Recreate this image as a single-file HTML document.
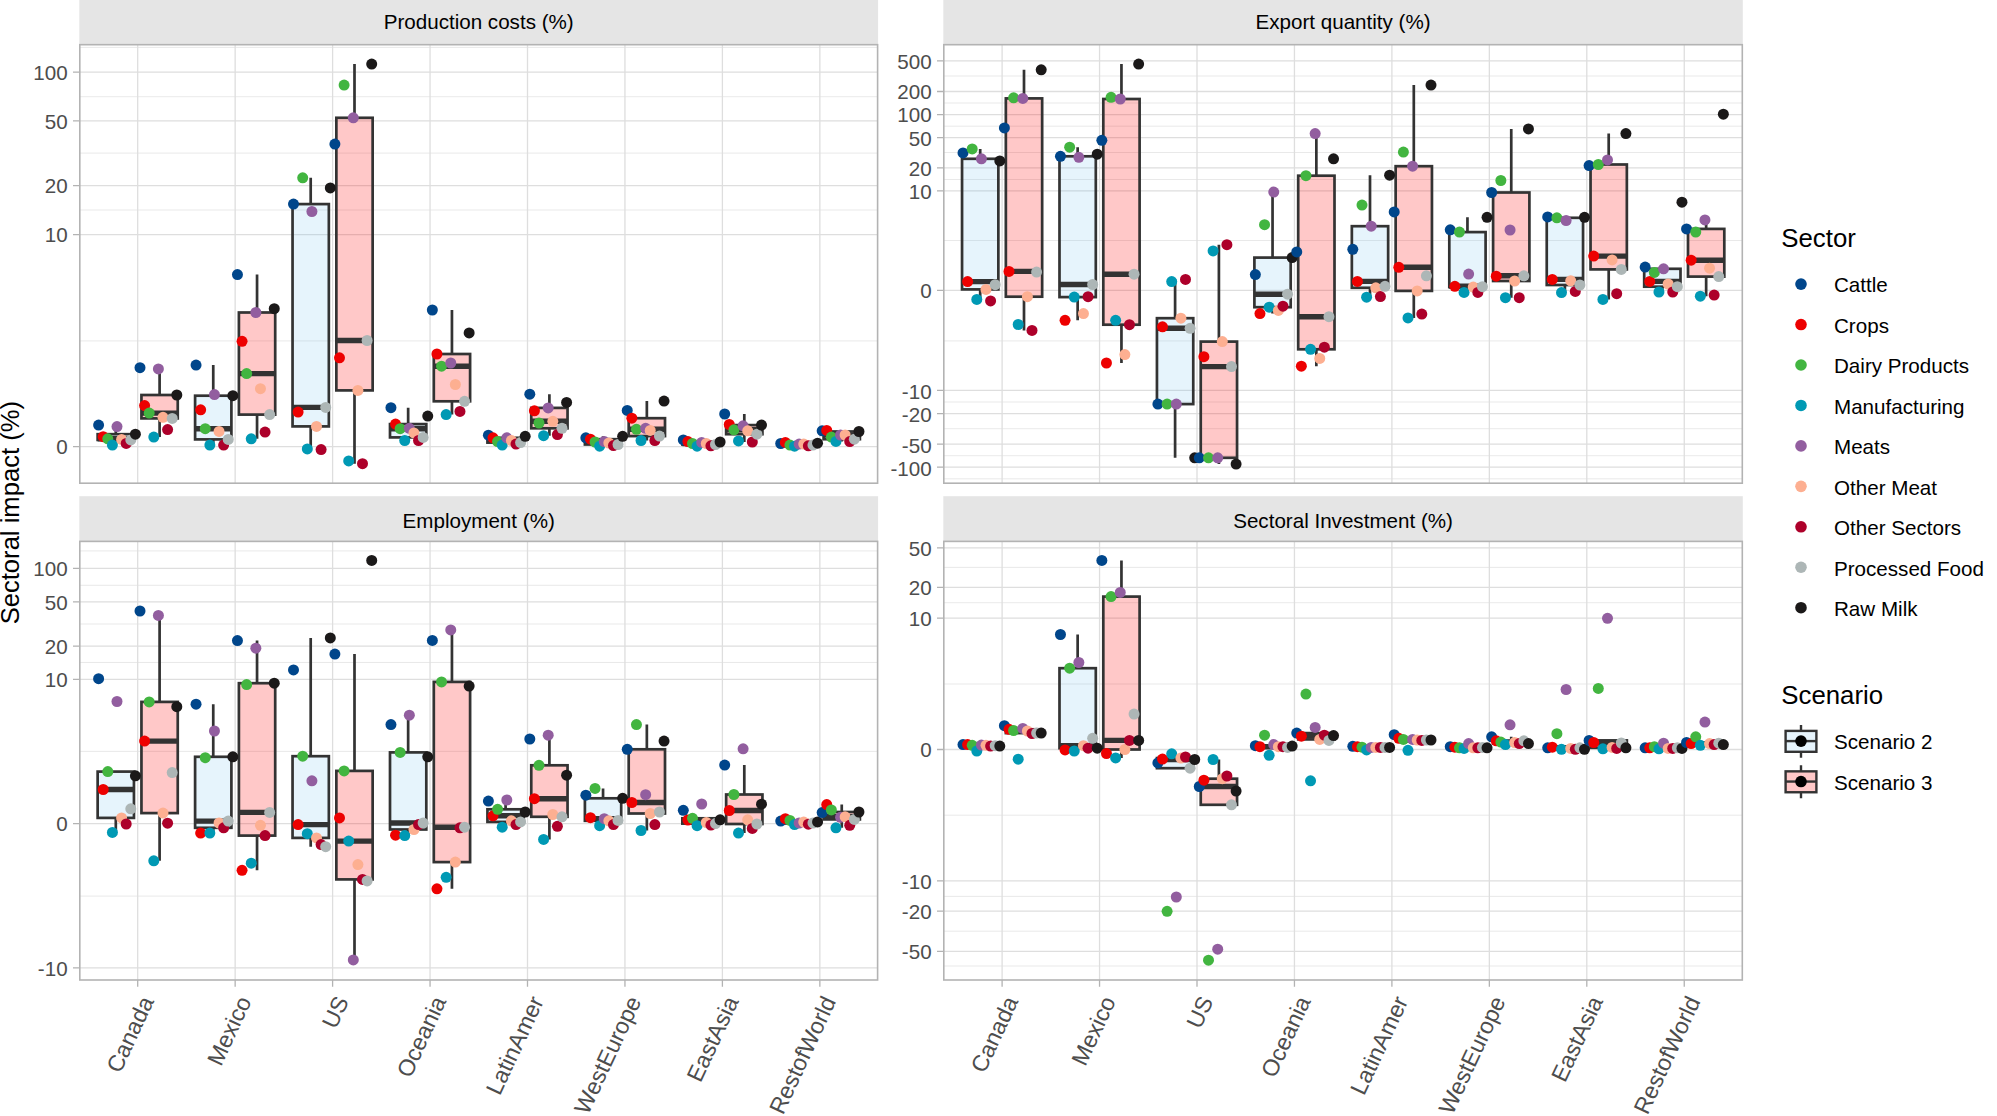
<!DOCTYPE html>
<html lang="en"><head><meta charset="utf-8"><title>Sectoral impact</title>
<style>html,body{margin:0;padding:0;background:#fff}body{width:1997px;height:1116px;overflow:hidden}svg{display:block}</style></head>
<body>
<svg width="1997" height="1116" viewBox="0 0 1997 1116" font-family="'Liberation Sans', Arial, sans-serif">
<rect width="1997" height="1116" fill="#fff"/>
<g transform="translate(0 0.4)">
<rect x="79.3" y="-1" width="798.8" height="45.3" fill="#E5E5E5"/>
<text x="478.7" y="29" font-size="20.6" fill="#000" text-anchor="middle">Production costs (%)</text>
<rect x="79.8" y="44.3" width="797.8" height="438.5" fill="#fff"/>
<path d="M79.8 47H877.6M79.8 96.3H877.6M79.8 152.7H877.6M79.8 209.6H877.6M79.8 340.5H877.6" stroke="#E3E3E3" stroke-width="0.8" fill="none"/>
<path d="M79.8 71.7H877.6M79.8 120.5H877.6M79.8 185.2H877.6M79.8 234.2H877.6M79.8 446.2H877.6M137.7 44.3V482.8M235.15 44.3V482.8M332.6 44.3V482.8M430.05 44.3V482.8M527.5 44.3V482.8M624.95 44.3V482.8M722.4 44.3V482.8M819.85 44.3V482.8" stroke="#DEDEDE" stroke-width="1.3" fill="none"/>
<path d="M115.8 426.2V433.8M115.8 439.5V444.7" stroke="#333333" stroke-width="2.7" fill="none"/>
<rect x="97.65" y="433.8" width="36.3" height="5.7" fill="rgba(86,180,233,0.15)" stroke="#333333" stroke-width="2.7" stroke-linejoin="miter"/>
<path d="M97.65 438.4H133.95" stroke="#333333" stroke-width="5.4"/>
<path d="M159.6 367.3V394.6M159.6 418V436.7" stroke="#333333" stroke-width="2.7" fill="none"/>
<rect x="141.45" y="394.6" width="36.3" height="23.4" fill="rgba(255,0,0,0.215)" stroke="#333333" stroke-width="2.7" stroke-linejoin="miter"/>
<path d="M141.45 412.7H177.75" stroke="#333333" stroke-width="5.4"/>
<path d="M213.25 364.7V395.3M213.25 439V444.7" stroke="#333333" stroke-width="2.7" fill="none"/>
<rect x="195.1" y="395.3" width="36.3" height="43.7" fill="rgba(86,180,233,0.15)" stroke="#333333" stroke-width="2.7" stroke-linejoin="miter"/>
<path d="M195.1 428.3H231.4" stroke="#333333" stroke-width="5.4"/>
<path d="M257.05 274.2V312.1M257.05 414.2V438.4" stroke="#333333" stroke-width="2.7" fill="none"/>
<rect x="238.9" y="312.1" width="36.3" height="102.1" fill="rgba(255,0,0,0.215)" stroke="#333333" stroke-width="2.7" stroke-linejoin="miter"/>
<path d="M238.9 373.2H275.2" stroke="#333333" stroke-width="5.4"/>
<path d="M310.7 177.4V203.7M310.7 426V449.2" stroke="#333333" stroke-width="2.7" fill="none"/>
<rect x="292.55" y="203.7" width="36.3" height="222.3" fill="rgba(86,180,233,0.15)" stroke="#333333" stroke-width="2.7" stroke-linejoin="miter"/>
<path d="M292.55 407H328.85" stroke="#333333" stroke-width="5.4"/>
<path d="M354.5 63.7V117.4M354.5 390V463.3" stroke="#333333" stroke-width="2.7" fill="none"/>
<rect x="336.35" y="117.4" width="36.3" height="272.6" fill="rgba(255,0,0,0.215)" stroke="#333333" stroke-width="2.7" stroke-linejoin="miter"/>
<path d="M336.35 340.1H372.65" stroke="#333333" stroke-width="5.4"/>
<path d="M408.15 407.3V423.7M408.15 437V440.1" stroke="#333333" stroke-width="2.7" fill="none"/>
<rect x="390" y="423.7" width="36.3" height="13.3" fill="rgba(86,180,233,0.15)" stroke="#333333" stroke-width="2.7" stroke-linejoin="miter"/>
<path d="M390 428.3H426.3" stroke="#333333" stroke-width="5.4"/>
<path d="M451.95 309.6V353.6M451.95 400.9V414.2" stroke="#333333" stroke-width="2.7" fill="none"/>
<rect x="433.8" y="353.6" width="36.3" height="47.3" fill="rgba(255,0,0,0.215)" stroke="#333333" stroke-width="2.7" stroke-linejoin="miter"/>
<path d="M433.8 365.8H470.1" stroke="#333333" stroke-width="5.4"/>
<path d="M505.6 434.8V437.4M505.6 442.2V444.7" stroke="#333333" stroke-width="2.7" fill="none"/>
<rect x="487.45" y="437.4" width="36.3" height="4.8" fill="rgba(86,180,233,0.15)" stroke="#333333" stroke-width="2.7" stroke-linejoin="miter"/>
<path d="M487.45 440.1H523.75" stroke="#333333" stroke-width="5.4"/>
<path d="M549.4 393.8V407.5M549.4 427.9V435.3" stroke="#333333" stroke-width="2.7" fill="none"/>
<rect x="531.25" y="407.5" width="36.3" height="20.4" fill="rgba(255,0,0,0.215)" stroke="#333333" stroke-width="2.7" stroke-linejoin="miter"/>
<path d="M531.25 420.9H567.55" stroke="#333333" stroke-width="5.4"/>
<path d="M603.05 435.9V438.8M603.05 444.1V445.8" stroke="#333333" stroke-width="2.7" fill="none"/>
<rect x="584.9" y="438.8" width="36.3" height="5.3" fill="rgba(86,180,233,0.15)" stroke="#333333" stroke-width="2.7" stroke-linejoin="miter"/>
<path d="M584.9 441.6H621.2" stroke="#333333" stroke-width="5.4"/>
<path d="M646.85 400.7V417.8M646.85 435.7V440.1" stroke="#333333" stroke-width="2.7" fill="none"/>
<rect x="628.7" y="417.8" width="36.3" height="17.9" fill="rgba(255,0,0,0.215)" stroke="#333333" stroke-width="2.7" stroke-linejoin="miter"/>
<path d="M628.7 428.9H665" stroke="#333333" stroke-width="5.4"/>
<path d="M700.5 439.5V441.6M700.5 444.1V445.8" stroke="#333333" stroke-width="2.7" fill="none"/>
<rect x="682.35" y="441.6" width="36.3" height="2.5" fill="rgba(86,180,233,0.15)" stroke="#333333" stroke-width="2.7" stroke-linejoin="miter"/>
<path d="M682.35 443.1H718.65" stroke="#333333" stroke-width="5.4"/>
<path d="M744.3 413.6V424.7M744.3 433.8V441.6" stroke="#333333" stroke-width="2.7" fill="none"/>
<rect x="726.15" y="424.7" width="36.3" height="9.1" fill="rgba(255,0,0,0.215)" stroke="#333333" stroke-width="2.7" stroke-linejoin="miter"/>
<path d="M726.15 429.4H762.45" stroke="#333333" stroke-width="5.4"/>
<path d="M797.95 442V443.1M797.95 444.7V445.8" stroke="#333333" stroke-width="2.7" fill="none"/>
<rect x="779.8" y="443.1" width="36.3" height="1.6" fill="rgba(86,180,233,0.15)" stroke="#333333" stroke-width="2.7" stroke-linejoin="miter"/>
<path d="M779.8 443.7H816.1" stroke="#333333" stroke-width="5.4"/>
<path d="M841.75 430V431.1M841.75 438.8V441.2" stroke="#333333" stroke-width="2.7" fill="none"/>
<rect x="823.6" y="431.1" width="36.3" height="7.7" fill="rgba(255,0,0,0.215)" stroke="#333333" stroke-width="2.7" stroke-linejoin="miter"/>
<path d="M823.6 434.6H859.9" stroke="#333333" stroke-width="5.4"/>
<circle cx="98.6" cy="424.7" r="5.5" fill="#00468B"/>
<circle cx="103.2" cy="436.3" r="5.5" fill="#ED0000"/>
<circle cx="107.8" cy="438.4" r="5.5" fill="#42B540"/>
<circle cx="112.4" cy="444.7" r="5.5" fill="#0099B4"/>
<circle cx="117" cy="426.2" r="5.5" fill="#925E9F"/>
<circle cx="121.6" cy="439" r="5.5" fill="#FDAF91"/>
<circle cx="126.2" cy="443" r="5.5" fill="#AD002A"/>
<circle cx="130.8" cy="439.5" r="5.5" fill="#ADB6B6"/>
<circle cx="135.4" cy="433.8" r="5.5" fill="#1B1919"/>
<circle cx="140" cy="367.3" r="5.5" fill="#00468B"/>
<circle cx="144.6" cy="405.2" r="5.5" fill="#ED0000"/>
<circle cx="149.2" cy="412.7" r="5.5" fill="#42B540"/>
<circle cx="153.8" cy="436.7" r="5.5" fill="#0099B4"/>
<circle cx="158.4" cy="368.5" r="5.5" fill="#925E9F"/>
<circle cx="163" cy="416.9" r="5.5" fill="#FDAF91"/>
<circle cx="167.6" cy="429.2" r="5.5" fill="#AD002A"/>
<circle cx="172.2" cy="418" r="5.5" fill="#ADB6B6"/>
<circle cx="176.8" cy="394.6" r="5.5" fill="#1B1919"/>
<circle cx="196.05" cy="364.7" r="5.5" fill="#00468B"/>
<circle cx="200.65" cy="409.4" r="5.5" fill="#ED0000"/>
<circle cx="205.25" cy="428.3" r="5.5" fill="#42B540"/>
<circle cx="209.85" cy="444.7" r="5.5" fill="#0099B4"/>
<circle cx="214.45" cy="394.2" r="5.5" fill="#925E9F"/>
<circle cx="219.05" cy="431" r="5.5" fill="#FDAF91"/>
<circle cx="223.65" cy="444.7" r="5.5" fill="#AD002A"/>
<circle cx="228.25" cy="439" r="5.5" fill="#ADB6B6"/>
<circle cx="232.85" cy="395.3" r="5.5" fill="#1B1919"/>
<circle cx="237.45" cy="274.2" r="5.5" fill="#00468B"/>
<circle cx="242.05" cy="340.9" r="5.5" fill="#ED0000"/>
<circle cx="246.65" cy="373.2" r="5.5" fill="#42B540"/>
<circle cx="251.25" cy="438.4" r="5.5" fill="#0099B4"/>
<circle cx="255.85" cy="312.1" r="5.5" fill="#925E9F"/>
<circle cx="260.45" cy="388.3" r="5.5" fill="#FDAF91"/>
<circle cx="265.05" cy="431.7" r="5.5" fill="#AD002A"/>
<circle cx="269.65" cy="414.2" r="5.5" fill="#ADB6B6"/>
<circle cx="274.25" cy="308.3" r="5.5" fill="#1B1919"/>
<circle cx="293.5" cy="203.7" r="5.5" fill="#00468B"/>
<circle cx="298.1" cy="411.7" r="5.5" fill="#ED0000"/>
<circle cx="302.7" cy="177.4" r="5.5" fill="#42B540"/>
<circle cx="307.3" cy="448.5" r="5.5" fill="#0099B4"/>
<circle cx="311.9" cy="211.1" r="5.5" fill="#925E9F"/>
<circle cx="316.5" cy="426" r="5.5" fill="#FDAF91"/>
<circle cx="321.1" cy="449.2" r="5.5" fill="#AD002A"/>
<circle cx="325.7" cy="407" r="5.5" fill="#ADB6B6"/>
<circle cx="330.3" cy="187.5" r="5.5" fill="#1B1919"/>
<circle cx="334.9" cy="143.7" r="5.5" fill="#00468B"/>
<circle cx="339.5" cy="357.4" r="5.5" fill="#ED0000"/>
<circle cx="344.1" cy="84.7" r="5.5" fill="#42B540"/>
<circle cx="348.7" cy="460.5" r="5.5" fill="#0099B4"/>
<circle cx="353.3" cy="117.4" r="5.5" fill="#925E9F"/>
<circle cx="357.9" cy="390" r="5.5" fill="#FDAF91"/>
<circle cx="362.5" cy="463.3" r="5.5" fill="#AD002A"/>
<circle cx="367.1" cy="340.1" r="5.5" fill="#ADB6B6"/>
<circle cx="371.7" cy="63.7" r="5.5" fill="#1B1919"/>
<circle cx="390.95" cy="407.3" r="5.5" fill="#00468B"/>
<circle cx="395.55" cy="423.7" r="5.5" fill="#ED0000"/>
<circle cx="400.15" cy="428.3" r="5.5" fill="#42B540"/>
<circle cx="404.75" cy="440.1" r="5.5" fill="#0099B4"/>
<circle cx="409.35" cy="427.9" r="5.5" fill="#925E9F"/>
<circle cx="413.95" cy="432.5" r="5.5" fill="#FDAF91"/>
<circle cx="418.55" cy="440.1" r="5.5" fill="#AD002A"/>
<circle cx="423.15" cy="437" r="5.5" fill="#ADB6B6"/>
<circle cx="427.75" cy="415.7" r="5.5" fill="#1B1919"/>
<circle cx="432.35" cy="309.6" r="5.5" fill="#00468B"/>
<circle cx="436.95" cy="353.6" r="5.5" fill="#ED0000"/>
<circle cx="441.55" cy="365.8" r="5.5" fill="#42B540"/>
<circle cx="446.15" cy="414.2" r="5.5" fill="#0099B4"/>
<circle cx="450.75" cy="362.6" r="5.5" fill="#925E9F"/>
<circle cx="455.35" cy="384.1" r="5.5" fill="#FDAF91"/>
<circle cx="459.95" cy="411" r="5.5" fill="#AD002A"/>
<circle cx="464.55" cy="400.9" r="5.5" fill="#ADB6B6"/>
<circle cx="469.15" cy="332.5" r="5.5" fill="#1B1919"/>
<circle cx="488.4" cy="434.8" r="5.5" fill="#00468B"/>
<circle cx="493" cy="437.4" r="5.5" fill="#ED0000"/>
<circle cx="497.6" cy="441.2" r="5.5" fill="#42B540"/>
<circle cx="502.2" cy="444.7" r="5.5" fill="#0099B4"/>
<circle cx="506.8" cy="437.4" r="5.5" fill="#925E9F"/>
<circle cx="511.4" cy="440.1" r="5.5" fill="#FDAF91"/>
<circle cx="516" cy="443.7" r="5.5" fill="#AD002A"/>
<circle cx="520.6" cy="442.2" r="5.5" fill="#ADB6B6"/>
<circle cx="525.2" cy="435.9" r="5.5" fill="#1B1919"/>
<circle cx="529.8" cy="393.8" r="5.5" fill="#00468B"/>
<circle cx="534.4" cy="410.4" r="5.5" fill="#ED0000"/>
<circle cx="539" cy="422.6" r="5.5" fill="#42B540"/>
<circle cx="543.6" cy="435.3" r="5.5" fill="#0099B4"/>
<circle cx="548.2" cy="407.5" r="5.5" fill="#925E9F"/>
<circle cx="552.8" cy="420.9" r="5.5" fill="#FDAF91"/>
<circle cx="557.4" cy="434.2" r="5.5" fill="#AD002A"/>
<circle cx="562" cy="427.9" r="5.5" fill="#ADB6B6"/>
<circle cx="566.6" cy="402" r="5.5" fill="#1B1919"/>
<circle cx="585.85" cy="437.4" r="5.5" fill="#00468B"/>
<circle cx="590.45" cy="438.8" r="5.5" fill="#ED0000"/>
<circle cx="595.05" cy="441.6" r="5.5" fill="#42B540"/>
<circle cx="599.65" cy="445.8" r="5.5" fill="#0099B4"/>
<circle cx="604.25" cy="441.2" r="5.5" fill="#925E9F"/>
<circle cx="608.85" cy="442.6" r="5.5" fill="#FDAF91"/>
<circle cx="613.45" cy="445.2" r="5.5" fill="#AD002A"/>
<circle cx="618.05" cy="444.1" r="5.5" fill="#ADB6B6"/>
<circle cx="622.65" cy="435.9" r="5.5" fill="#1B1919"/>
<circle cx="627.25" cy="410" r="5.5" fill="#00468B"/>
<circle cx="631.85" cy="417.8" r="5.5" fill="#ED0000"/>
<circle cx="636.45" cy="428.9" r="5.5" fill="#42B540"/>
<circle cx="641.05" cy="440.1" r="5.5" fill="#0099B4"/>
<circle cx="645.65" cy="427.9" r="5.5" fill="#925E9F"/>
<circle cx="650.25" cy="430" r="5.5" fill="#FDAF91"/>
<circle cx="654.85" cy="440.1" r="5.5" fill="#AD002A"/>
<circle cx="659.45" cy="435.7" r="5.5" fill="#ADB6B6"/>
<circle cx="664.05" cy="400.7" r="5.5" fill="#1B1919"/>
<circle cx="683.3" cy="439.5" r="5.5" fill="#00468B"/>
<circle cx="687.9" cy="441.2" r="5.5" fill="#ED0000"/>
<circle cx="692.5" cy="443.1" r="5.5" fill="#42B540"/>
<circle cx="697.1" cy="445.8" r="5.5" fill="#0099B4"/>
<circle cx="701.7" cy="442" r="5.5" fill="#925E9F"/>
<circle cx="706.3" cy="443.1" r="5.5" fill="#FDAF91"/>
<circle cx="710.9" cy="445.4" r="5.5" fill="#AD002A"/>
<circle cx="715.5" cy="444.1" r="5.5" fill="#ADB6B6"/>
<circle cx="720.1" cy="441.6" r="5.5" fill="#1B1919"/>
<circle cx="724.7" cy="413.6" r="5.5" fill="#00468B"/>
<circle cx="729.3" cy="424.1" r="5.5" fill="#ED0000"/>
<circle cx="733.9" cy="429.4" r="5.5" fill="#42B540"/>
<circle cx="738.5" cy="440.5" r="5.5" fill="#0099B4"/>
<circle cx="743.1" cy="425.4" r="5.5" fill="#925E9F"/>
<circle cx="747.7" cy="430.4" r="5.5" fill="#FDAF91"/>
<circle cx="752.3" cy="441.6" r="5.5" fill="#AD002A"/>
<circle cx="756.9" cy="433.8" r="5.5" fill="#ADB6B6"/>
<circle cx="761.5" cy="424.7" r="5.5" fill="#1B1919"/>
<circle cx="780.75" cy="443.1" r="5.5" fill="#00468B"/>
<circle cx="785.35" cy="442" r="5.5" fill="#ED0000"/>
<circle cx="789.95" cy="444.7" r="5.5" fill="#42B540"/>
<circle cx="794.55" cy="445.8" r="5.5" fill="#0099B4"/>
<circle cx="799.15" cy="443.7" r="5.5" fill="#925E9F"/>
<circle cx="803.75" cy="443.7" r="5.5" fill="#FDAF91"/>
<circle cx="808.35" cy="445.4" r="5.5" fill="#AD002A"/>
<circle cx="812.95" cy="444.7" r="5.5" fill="#ADB6B6"/>
<circle cx="817.55" cy="442.8" r="5.5" fill="#1B1919"/>
<circle cx="822.15" cy="430.4" r="5.5" fill="#00468B"/>
<circle cx="826.75" cy="430" r="5.5" fill="#ED0000"/>
<circle cx="831.35" cy="436.7" r="5.5" fill="#42B540"/>
<circle cx="835.95" cy="441" r="5.5" fill="#0099B4"/>
<circle cx="840.55" cy="434.6" r="5.5" fill="#925E9F"/>
<circle cx="845.15" cy="434.6" r="5.5" fill="#FDAF91"/>
<circle cx="849.75" cy="441.2" r="5.5" fill="#AD002A"/>
<circle cx="854.35" cy="438.8" r="5.5" fill="#ADB6B6"/>
<circle cx="858.95" cy="431.1" r="5.5" fill="#1B1919"/>
<rect x="79.8" y="44.3" width="797.8" height="438.5" fill="none" stroke="#B3B3B3" stroke-width="1.6"/>
<path d="M73 71.7H79.8M73 120.5H79.8M73 185.2H79.8M73 234.2H79.8M73 446.2H79.8" stroke="#B3B3B3" stroke-width="1.3" fill="none"/>
<text x="67.6" y="79.6" font-size="20.6" fill="#4D4D4D" text-anchor="end">100</text>
<text x="67.6" y="128.4" font-size="20.6" fill="#4D4D4D" text-anchor="end">50</text>
<text x="67.6" y="193.1" font-size="20.6" fill="#4D4D4D" text-anchor="end">20</text>
<text x="67.6" y="242.1" font-size="20.6" fill="#4D4D4D" text-anchor="end">10</text>
<text x="67.6" y="454.1" font-size="20.6" fill="#4D4D4D" text-anchor="end">0</text>
</g>
<g transform="translate(0 0.4)">
<rect x="943.3" y="-1" width="799.5" height="45.3" fill="#E5E5E5"/>
<text x="1343.05" y="29" font-size="20.6" fill="#000" text-anchor="middle">Export quantity (%)</text>
<rect x="943.8" y="44.3" width="798.5" height="438.5" fill="#fff"/>
<path d="M943.8 75.6H1742.3M943.8 102.6H1742.3M943.8 125.8H1742.3M943.8 152.1H1742.3M943.8 179.1H1742.3M943.8 240.1H1742.3M943.8 340.5H1742.3M943.8 401.6H1742.3M943.8 428.3H1742.3M943.8 455.3H1742.3M943.8 478.4H1742.3" stroke="#E3E3E3" stroke-width="0.8" fill="none"/>
<path d="M943.8 60.5H1742.3M943.8 91.1H1742.3M943.8 114.2H1742.3M943.8 137.3H1742.3M943.8 167.5H1742.3M943.8 190.4H1742.3M943.8 290H1742.3M943.8 390H1742.3M943.8 413.2H1742.3M943.8 443.7H1742.3M943.8 466.8H1742.3M1002.1 44.3V482.8M1099.55 44.3V482.8M1197 44.3V482.8M1294.45 44.3V482.8M1391.9 44.3V482.8M1489.35 44.3V482.8M1586.8 44.3V482.8M1684.25 44.3V482.8" stroke="#DEDEDE" stroke-width="1.3" fill="none"/>
<path d="M980.2 148.5V158.4M980.2 289V300.5" stroke="#333333" stroke-width="2.7" fill="none"/>
<rect x="962.05" y="158.4" width="36.3" height="130.6" fill="rgba(86,180,233,0.15)" stroke="#333333" stroke-width="2.7" stroke-linejoin="miter"/>
<path d="M962.05 281.2H998.35" stroke="#333333" stroke-width="5.4"/>
<path d="M1024 69.4V98M1024 296.3V330" stroke="#333333" stroke-width="2.7" fill="none"/>
<rect x="1005.85" y="98" width="36.3" height="198.3" fill="rgba(255,0,0,0.215)" stroke="#333333" stroke-width="2.7" stroke-linejoin="miter"/>
<path d="M1005.85 271H1042.15" stroke="#333333" stroke-width="5.4"/>
<path d="M1077.65 146.8V155.9M1077.65 296.7V319.9" stroke="#333333" stroke-width="2.7" fill="none"/>
<rect x="1059.5" y="155.9" width="36.3" height="140.8" fill="rgba(86,180,233,0.15)" stroke="#333333" stroke-width="2.7" stroke-linejoin="miter"/>
<path d="M1059.5 284.1H1095.8" stroke="#333333" stroke-width="5.4"/>
<path d="M1121.45 63.7V98.6M1121.45 324.3V362.6" stroke="#333333" stroke-width="2.7" fill="none"/>
<rect x="1103.3" y="98.6" width="36.3" height="225.7" fill="rgba(255,0,0,0.215)" stroke="#333333" stroke-width="2.7" stroke-linejoin="miter"/>
<path d="M1103.3 273.8H1139.6" stroke="#333333" stroke-width="5.4"/>
<path d="M1175.1 279V317.8M1175.1 403.7V457.4" stroke="#333333" stroke-width="2.7" fill="none"/>
<rect x="1156.95" y="317.8" width="36.3" height="85.9" fill="rgba(86,180,233,0.15)" stroke="#333333" stroke-width="2.7" stroke-linejoin="miter"/>
<path d="M1156.95 327.9H1193.25" stroke="#333333" stroke-width="5.4"/>
<path d="M1218.9 244.3V341.2M1218.9 457.4V463.7" stroke="#333333" stroke-width="2.7" fill="none"/>
<rect x="1200.75" y="341.2" width="36.3" height="116.2" fill="rgba(255,0,0,0.215)" stroke="#333333" stroke-width="2.7" stroke-linejoin="miter"/>
<path d="M1200.75 366.2H1237.05" stroke="#333333" stroke-width="5.4"/>
<path d="M1272.55 191.7V257.2M1272.55 306.8V313.2" stroke="#333333" stroke-width="2.7" fill="none"/>
<rect x="1254.4" y="257.2" width="36.3" height="49.6" fill="rgba(86,180,233,0.15)" stroke="#333333" stroke-width="2.7" stroke-linejoin="miter"/>
<path d="M1254.4 293.8H1290.7" stroke="#333333" stroke-width="5.4"/>
<path d="M1316.35 133.2V175.3M1316.35 348.9V365.8" stroke="#333333" stroke-width="2.7" fill="none"/>
<rect x="1298.2" y="175.3" width="36.3" height="173.6" fill="rgba(255,0,0,0.215)" stroke="#333333" stroke-width="2.7" stroke-linejoin="miter"/>
<path d="M1298.2 316.3H1334.5" stroke="#333333" stroke-width="5.4"/>
<path d="M1370 174.8V225.8M1370 287.4V296.8" stroke="#333333" stroke-width="2.7" fill="none"/>
<rect x="1351.85" y="225.8" width="36.3" height="61.6" fill="rgba(86,180,233,0.15)" stroke="#333333" stroke-width="2.7" stroke-linejoin="miter"/>
<path d="M1351.85 281H1388.15" stroke="#333333" stroke-width="5.4"/>
<path d="M1413.8 84.7V165.8M1413.8 290.5V317.5" stroke="#333333" stroke-width="2.7" fill="none"/>
<rect x="1395.65" y="165.8" width="36.3" height="124.7" fill="rgba(255,0,0,0.215)" stroke="#333333" stroke-width="2.7" stroke-linejoin="miter"/>
<path d="M1395.65 266.9H1431.95" stroke="#333333" stroke-width="5.4"/>
<path d="M1467.45 216.9V231.7M1467.45 286.7V292" stroke="#333333" stroke-width="2.7" fill="none"/>
<rect x="1449.3" y="231.7" width="36.3" height="55" fill="rgba(86,180,233,0.15)" stroke="#333333" stroke-width="2.7" stroke-linejoin="miter"/>
<path d="M1449.3 285.9H1485.6" stroke="#333333" stroke-width="5.4"/>
<path d="M1511.25 128.5V192.1M1511.25 280.6V297.3" stroke="#333333" stroke-width="2.7" fill="none"/>
<rect x="1493.1" y="192.1" width="36.3" height="88.5" fill="rgba(255,0,0,0.215)" stroke="#333333" stroke-width="2.7" stroke-linejoin="miter"/>
<path d="M1493.1 275.4H1529.4" stroke="#333333" stroke-width="5.4"/>
<path d="M1564.9 216.5V217.4M1564.9 284.6V292.2" stroke="#333333" stroke-width="2.7" fill="none"/>
<rect x="1546.75" y="217.4" width="36.3" height="67.2" fill="rgba(86,180,233,0.15)" stroke="#333333" stroke-width="2.7" stroke-linejoin="miter"/>
<path d="M1546.75 279H1583.05" stroke="#333333" stroke-width="5.4"/>
<path d="M1608.7 133.2V164.1M1608.7 269V299" stroke="#333333" stroke-width="2.7" fill="none"/>
<rect x="1590.55" y="164.1" width="36.3" height="104.9" fill="rgba(255,0,0,0.215)" stroke="#333333" stroke-width="2.7" stroke-linejoin="miter"/>
<path d="M1590.55 255.7H1626.85" stroke="#333333" stroke-width="5.4"/>
<path d="M1662.35 266.7V268.4M1662.35 286.3V291.6" stroke="#333333" stroke-width="2.7" fill="none"/>
<rect x="1644.2" y="268.4" width="36.3" height="17.9" fill="rgba(86,180,233,0.15)" stroke="#333333" stroke-width="2.7" stroke-linejoin="miter"/>
<path d="M1644.2 281H1680.5" stroke="#333333" stroke-width="5.4"/>
<path d="M1706.15 219.5V228.5M1706.15 276.2V295.8" stroke="#333333" stroke-width="2.7" fill="none"/>
<rect x="1688" y="228.5" width="36.3" height="47.7" fill="rgba(255,0,0,0.215)" stroke="#333333" stroke-width="2.7" stroke-linejoin="miter"/>
<path d="M1688 259.8H1724.3" stroke="#333333" stroke-width="5.4"/>
<circle cx="963" cy="152.5" r="5.5" fill="#00468B"/>
<circle cx="967.6" cy="281.2" r="5.5" fill="#ED0000"/>
<circle cx="972.2" cy="148.5" r="5.5" fill="#42B540"/>
<circle cx="976.8" cy="299" r="5.5" fill="#0099B4"/>
<circle cx="981.4" cy="158.4" r="5.5" fill="#925E9F"/>
<circle cx="986" cy="289" r="5.5" fill="#FDAF91"/>
<circle cx="990.6" cy="300.5" r="5.5" fill="#AD002A"/>
<circle cx="995.2" cy="284.3" r="5.5" fill="#ADB6B6"/>
<circle cx="999.8" cy="160.5" r="5.5" fill="#1B1919"/>
<circle cx="1004.4" cy="127.5" r="5.5" fill="#00468B"/>
<circle cx="1009" cy="271" r="5.5" fill="#ED0000"/>
<circle cx="1013.6" cy="97.4" r="5.5" fill="#42B540"/>
<circle cx="1018.2" cy="324.1" r="5.5" fill="#0099B4"/>
<circle cx="1022.8" cy="98" r="5.5" fill="#925E9F"/>
<circle cx="1027.4" cy="296.3" r="5.5" fill="#FDAF91"/>
<circle cx="1032" cy="330" r="5.5" fill="#AD002A"/>
<circle cx="1036.6" cy="271.7" r="5.5" fill="#ADB6B6"/>
<circle cx="1041.2" cy="69.4" r="5.5" fill="#1B1919"/>
<circle cx="1060.45" cy="155.9" r="5.5" fill="#00468B"/>
<circle cx="1065.05" cy="319.9" r="5.5" fill="#ED0000"/>
<circle cx="1069.65" cy="146.8" r="5.5" fill="#42B540"/>
<circle cx="1074.25" cy="296.7" r="5.5" fill="#0099B4"/>
<circle cx="1078.85" cy="156.9" r="5.5" fill="#925E9F"/>
<circle cx="1083.45" cy="313.2" r="5.5" fill="#FDAF91"/>
<circle cx="1088.05" cy="296.3" r="5.5" fill="#AD002A"/>
<circle cx="1092.65" cy="284.1" r="5.5" fill="#ADB6B6"/>
<circle cx="1097.25" cy="153.8" r="5.5" fill="#1B1919"/>
<circle cx="1101.85" cy="139.9" r="5.5" fill="#00468B"/>
<circle cx="1106.45" cy="362.6" r="5.5" fill="#ED0000"/>
<circle cx="1111.05" cy="96.9" r="5.5" fill="#42B540"/>
<circle cx="1115.65" cy="319.9" r="5.5" fill="#0099B4"/>
<circle cx="1120.25" cy="98.6" r="5.5" fill="#925E9F"/>
<circle cx="1124.85" cy="354.2" r="5.5" fill="#FDAF91"/>
<circle cx="1129.45" cy="324.3" r="5.5" fill="#AD002A"/>
<circle cx="1134.05" cy="273.8" r="5.5" fill="#ADB6B6"/>
<circle cx="1138.65" cy="63.7" r="5.5" fill="#1B1919"/>
<circle cx="1157.9" cy="403.7" r="5.5" fill="#00468B"/>
<circle cx="1162.5" cy="326.4" r="5.5" fill="#ED0000"/>
<circle cx="1167.1" cy="403.7" r="5.5" fill="#42B540"/>
<circle cx="1171.7" cy="281.2" r="5.5" fill="#0099B4"/>
<circle cx="1176.3" cy="403.7" r="5.5" fill="#925E9F"/>
<circle cx="1180.9" cy="317.8" r="5.5" fill="#FDAF91"/>
<circle cx="1185.5" cy="279" r="5.5" fill="#AD002A"/>
<circle cx="1190.1" cy="327.9" r="5.5" fill="#ADB6B6"/>
<circle cx="1194.7" cy="457.4" r="5.5" fill="#1B1919"/>
<circle cx="1199.3" cy="457.4" r="5.5" fill="#00468B"/>
<circle cx="1203.9" cy="356.3" r="5.5" fill="#ED0000"/>
<circle cx="1208.5" cy="457.4" r="5.5" fill="#42B540"/>
<circle cx="1213.1" cy="250.5" r="5.5" fill="#0099B4"/>
<circle cx="1217.7" cy="457.4" r="5.5" fill="#925E9F"/>
<circle cx="1222.3" cy="341.2" r="5.5" fill="#FDAF91"/>
<circle cx="1226.9" cy="244.3" r="5.5" fill="#AD002A"/>
<circle cx="1231.5" cy="366.2" r="5.5" fill="#ADB6B6"/>
<circle cx="1236.1" cy="463.7" r="5.5" fill="#1B1919"/>
<circle cx="1255.35" cy="274.2" r="5.5" fill="#00468B"/>
<circle cx="1259.95" cy="313.2" r="5.5" fill="#ED0000"/>
<circle cx="1264.55" cy="224.3" r="5.5" fill="#42B540"/>
<circle cx="1269.15" cy="306.8" r="5.5" fill="#0099B4"/>
<circle cx="1273.75" cy="191.7" r="5.5" fill="#925E9F"/>
<circle cx="1278.35" cy="310" r="5.5" fill="#FDAF91"/>
<circle cx="1282.95" cy="305.8" r="5.5" fill="#AD002A"/>
<circle cx="1287.55" cy="293.8" r="5.5" fill="#ADB6B6"/>
<circle cx="1292.15" cy="257.2" r="5.5" fill="#1B1919"/>
<circle cx="1296.75" cy="251.5" r="5.5" fill="#00468B"/>
<circle cx="1301.35" cy="365.8" r="5.5" fill="#ED0000"/>
<circle cx="1305.95" cy="175.3" r="5.5" fill="#42B540"/>
<circle cx="1310.55" cy="348.9" r="5.5" fill="#0099B4"/>
<circle cx="1315.15" cy="133.2" r="5.5" fill="#925E9F"/>
<circle cx="1319.75" cy="358" r="5.5" fill="#FDAF91"/>
<circle cx="1324.35" cy="346.8" r="5.5" fill="#AD002A"/>
<circle cx="1328.95" cy="316.3" r="5.5" fill="#ADB6B6"/>
<circle cx="1333.55" cy="158.4" r="5.5" fill="#1B1919"/>
<circle cx="1352.8" cy="248.9" r="5.5" fill="#00468B"/>
<circle cx="1357.4" cy="281" r="5.5" fill="#ED0000"/>
<circle cx="1362" cy="204.7" r="5.5" fill="#42B540"/>
<circle cx="1366.6" cy="296.8" r="5.5" fill="#0099B4"/>
<circle cx="1371.2" cy="225.8" r="5.5" fill="#925E9F"/>
<circle cx="1375.8" cy="287.4" r="5.5" fill="#FDAF91"/>
<circle cx="1380.4" cy="296.2" r="5.5" fill="#AD002A"/>
<circle cx="1385" cy="285.9" r="5.5" fill="#ADB6B6"/>
<circle cx="1389.6" cy="174.8" r="5.5" fill="#1B1919"/>
<circle cx="1394.2" cy="211.5" r="5.5" fill="#00468B"/>
<circle cx="1398.8" cy="266.9" r="5.5" fill="#ED0000"/>
<circle cx="1403.4" cy="151.7" r="5.5" fill="#42B540"/>
<circle cx="1408" cy="317.5" r="5.5" fill="#0099B4"/>
<circle cx="1412.6" cy="165.8" r="5.5" fill="#925E9F"/>
<circle cx="1417.2" cy="290.5" r="5.5" fill="#FDAF91"/>
<circle cx="1421.8" cy="313.7" r="5.5" fill="#AD002A"/>
<circle cx="1426.4" cy="275.4" r="5.5" fill="#ADB6B6"/>
<circle cx="1431" cy="84.7" r="5.5" fill="#1B1919"/>
<circle cx="1450.25" cy="229.4" r="5.5" fill="#00468B"/>
<circle cx="1454.85" cy="285.9" r="5.5" fill="#ED0000"/>
<circle cx="1459.45" cy="231.7" r="5.5" fill="#42B540"/>
<circle cx="1464.05" cy="292" r="5.5" fill="#0099B4"/>
<circle cx="1468.65" cy="273.7" r="5.5" fill="#925E9F"/>
<circle cx="1473.25" cy="286.7" r="5.5" fill="#FDAF91"/>
<circle cx="1477.85" cy="292" r="5.5" fill="#AD002A"/>
<circle cx="1482.45" cy="286.3" r="5.5" fill="#ADB6B6"/>
<circle cx="1487.05" cy="216.9" r="5.5" fill="#1B1919"/>
<circle cx="1491.65" cy="192.1" r="5.5" fill="#00468B"/>
<circle cx="1496.25" cy="275.8" r="5.5" fill="#ED0000"/>
<circle cx="1500.85" cy="180.1" r="5.5" fill="#42B540"/>
<circle cx="1505.45" cy="297.3" r="5.5" fill="#0099B4"/>
<circle cx="1510.05" cy="229.6" r="5.5" fill="#925E9F"/>
<circle cx="1514.65" cy="280.6" r="5.5" fill="#FDAF91"/>
<circle cx="1519.25" cy="297.3" r="5.5" fill="#AD002A"/>
<circle cx="1523.85" cy="275.4" r="5.5" fill="#ADB6B6"/>
<circle cx="1528.45" cy="128.5" r="5.5" fill="#1B1919"/>
<circle cx="1547.7" cy="216.5" r="5.5" fill="#00468B"/>
<circle cx="1552.3" cy="279" r="5.5" fill="#ED0000"/>
<circle cx="1556.9" cy="217.4" r="5.5" fill="#42B540"/>
<circle cx="1561.5" cy="292.2" r="5.5" fill="#0099B4"/>
<circle cx="1566.1" cy="220.1" r="5.5" fill="#925E9F"/>
<circle cx="1570.7" cy="280.4" r="5.5" fill="#FDAF91"/>
<circle cx="1575.3" cy="291" r="5.5" fill="#AD002A"/>
<circle cx="1579.9" cy="284.6" r="5.5" fill="#ADB6B6"/>
<circle cx="1584.5" cy="216.9" r="5.5" fill="#1B1919"/>
<circle cx="1589.1" cy="165.2" r="5.5" fill="#00468B"/>
<circle cx="1593.7" cy="255.7" r="5.5" fill="#ED0000"/>
<circle cx="1598.3" cy="164.1" r="5.5" fill="#42B540"/>
<circle cx="1602.9" cy="299" r="5.5" fill="#0099B4"/>
<circle cx="1607.5" cy="159.5" r="5.5" fill="#925E9F"/>
<circle cx="1612.1" cy="259.5" r="5.5" fill="#FDAF91"/>
<circle cx="1616.7" cy="293.3" r="5.5" fill="#AD002A"/>
<circle cx="1621.3" cy="269" r="5.5" fill="#ADB6B6"/>
<circle cx="1625.9" cy="133.2" r="5.5" fill="#1B1919"/>
<circle cx="1645.15" cy="266.7" r="5.5" fill="#00468B"/>
<circle cx="1649.75" cy="281" r="5.5" fill="#ED0000"/>
<circle cx="1654.35" cy="272" r="5.5" fill="#42B540"/>
<circle cx="1658.95" cy="291.6" r="5.5" fill="#0099B4"/>
<circle cx="1663.55" cy="268.4" r="5.5" fill="#925E9F"/>
<circle cx="1668.15" cy="283.6" r="5.5" fill="#FDAF91"/>
<circle cx="1672.75" cy="291.6" r="5.5" fill="#AD002A"/>
<circle cx="1677.35" cy="286.3" r="5.5" fill="#ADB6B6"/>
<circle cx="1681.95" cy="201.8" r="5.5" fill="#1B1919"/>
<circle cx="1686.55" cy="228.5" r="5.5" fill="#00468B"/>
<circle cx="1691.15" cy="259.8" r="5.5" fill="#ED0000"/>
<circle cx="1695.75" cy="231.7" r="5.5" fill="#42B540"/>
<circle cx="1700.35" cy="295.8" r="5.5" fill="#0099B4"/>
<circle cx="1704.95" cy="219.5" r="5.5" fill="#925E9F"/>
<circle cx="1709.55" cy="267.8" r="5.5" fill="#FDAF91"/>
<circle cx="1714.15" cy="294.7" r="5.5" fill="#AD002A"/>
<circle cx="1718.75" cy="276.2" r="5.5" fill="#ADB6B6"/>
<circle cx="1723.35" cy="113.8" r="5.5" fill="#1B1919"/>
<rect x="943.8" y="44.3" width="798.5" height="438.5" fill="none" stroke="#B3B3B3" stroke-width="1.6"/>
<path d="M937 60.5H943.8M937 91.1H943.8M937 114.2H943.8M937 137.3H943.8M937 167.5H943.8M937 190.4H943.8M937 290H943.8M937 390H943.8M937 413.2H943.8M937 443.7H943.8M937 466.8H943.8" stroke="#B3B3B3" stroke-width="1.3" fill="none"/>
<text x="931.6" y="68.4" font-size="20.6" fill="#4D4D4D" text-anchor="end">500</text>
<text x="931.6" y="99" font-size="20.6" fill="#4D4D4D" text-anchor="end">200</text>
<text x="931.6" y="122.1" font-size="20.6" fill="#4D4D4D" text-anchor="end">100</text>
<text x="931.6" y="145.2" font-size="20.6" fill="#4D4D4D" text-anchor="end">50</text>
<text x="931.6" y="175.4" font-size="20.6" fill="#4D4D4D" text-anchor="end">20</text>
<text x="931.6" y="198.3" font-size="20.6" fill="#4D4D4D" text-anchor="end">10</text>
<text x="931.6" y="297.9" font-size="20.6" fill="#4D4D4D" text-anchor="end">0</text>
<text x="931.6" y="398.8" font-size="20.6" fill="#4D4D4D" text-anchor="end">-10</text>
<text x="931.6" y="422" font-size="20.6" fill="#4D4D4D" text-anchor="end">-20</text>
<text x="931.6" y="452.5" font-size="20.6" fill="#4D4D4D" text-anchor="end">-50</text>
<text x="931.6" y="475.6" font-size="20.6" fill="#4D4D4D" text-anchor="end">-100</text>
</g>
<g transform="translate(0 -0.1)">
<rect x="79.3" y="496.3" width="798.8" height="45.2" fill="#E5E5E5"/>
<text x="478.7" y="527.7" font-size="20.6" fill="#000" text-anchor="middle">Employment (%)</text>
<rect x="79.8" y="541.5" width="797.8" height="438.6" fill="#fff"/>
<path d="M79.8 551H877.6M79.8 585.4H877.6M79.8 624.1H877.6M79.8 662.6H877.6M79.8 751.5H877.6M79.8 896.2H877.6" stroke="#E3E3E3" stroke-width="0.8" fill="none"/>
<path d="M79.8 568.5H877.6M79.8 602H877.6M79.8 646.2H877.6M79.8 679.5H877.6M79.8 823.7H877.6M79.8 968H877.6M137.7 541.5V980.1M235.15 541.5V980.1M332.6 541.5V980.1M430.05 541.5V980.1M527.5 541.5V980.1M624.95 541.5V980.1M722.4 541.5V980.1M819.85 541.5V980.1" stroke="#DEDEDE" stroke-width="1.3" fill="none"/>
<path d="M115.8 818V832.5" stroke="#333333" stroke-width="2.7" fill="none"/>
<rect x="97.65" y="771.7" width="36.3" height="46.3" fill="rgba(86,180,233,0.15)" stroke="#333333" stroke-width="2.7" stroke-linejoin="miter"/>
<path d="M97.65 789.6H133.95" stroke="#333333" stroke-width="5.4"/>
<path d="M159.6 611.1V702M159.6 813.2V860.9" stroke="#333333" stroke-width="2.7" fill="none"/>
<rect x="141.45" y="702" width="36.3" height="111.2" fill="rgba(255,0,0,0.215)" stroke="#333333" stroke-width="2.7" stroke-linejoin="miter"/>
<path d="M141.45 741.2H177.75" stroke="#333333" stroke-width="5.4"/>
<path d="M213.25 704.3V756.9M213.25 827.9V833.2" stroke="#333333" stroke-width="2.7" fill="none"/>
<rect x="195.1" y="756.9" width="36.3" height="71" fill="rgba(86,180,233,0.15)" stroke="#333333" stroke-width="2.7" stroke-linejoin="miter"/>
<path d="M195.1 821.2H231.4" stroke="#333333" stroke-width="5.4"/>
<path d="M257.05 640.7V683.3M257.05 835.7V870.4" stroke="#333333" stroke-width="2.7" fill="none"/>
<rect x="238.9" y="683.3" width="36.3" height="152.4" fill="rgba(255,0,0,0.215)" stroke="#333333" stroke-width="2.7" stroke-linejoin="miter"/>
<path d="M238.9 812.5H275.2" stroke="#333333" stroke-width="5.4"/>
<path d="M310.7 638V756.3M310.7 838V846.8" stroke="#333333" stroke-width="2.7" fill="none"/>
<rect x="292.55" y="756.3" width="36.3" height="81.7" fill="rgba(86,180,233,0.15)" stroke="#333333" stroke-width="2.7" stroke-linejoin="miter"/>
<path d="M292.55 824.7H328.85" stroke="#333333" stroke-width="5.4"/>
<path d="M354.5 654.2V771M354.5 879.5V960" stroke="#333333" stroke-width="2.7" fill="none"/>
<rect x="336.35" y="771" width="36.3" height="108.5" fill="rgba(255,0,0,0.215)" stroke="#333333" stroke-width="2.7" stroke-linejoin="miter"/>
<path d="M336.35 841.2H372.65" stroke="#333333" stroke-width="5.4"/>
<path d="M408.15 715.3V752.5M408.15 829.6V835.7" stroke="#333333" stroke-width="2.7" fill="none"/>
<rect x="390" y="752.5" width="36.3" height="77.1" fill="rgba(86,180,233,0.15)" stroke="#333333" stroke-width="2.7" stroke-linejoin="miter"/>
<path d="M390 823.1H426.3" stroke="#333333" stroke-width="5.4"/>
<path d="M451.95 630V682M451.95 862.2V888.9" stroke="#333333" stroke-width="2.7" fill="none"/>
<rect x="433.8" y="682" width="36.3" height="180.2" fill="rgba(255,0,0,0.215)" stroke="#333333" stroke-width="2.7" stroke-linejoin="miter"/>
<path d="M433.8 827.3H470.1" stroke="#333333" stroke-width="5.4"/>
<path d="M505.6 800.1V809.4M505.6 822V827.3" stroke="#333333" stroke-width="2.7" fill="none"/>
<rect x="487.45" y="809.4" width="36.3" height="12.6" fill="rgba(86,180,233,0.15)" stroke="#333333" stroke-width="2.7" stroke-linejoin="miter"/>
<path d="M487.45 815.9H523.75" stroke="#333333" stroke-width="5.4"/>
<path d="M549.4 735.3V765.4M549.4 816.9V839.5" stroke="#333333" stroke-width="2.7" fill="none"/>
<rect x="531.25" y="765.4" width="36.3" height="51.5" fill="rgba(255,0,0,0.215)" stroke="#333333" stroke-width="2.7" stroke-linejoin="miter"/>
<path d="M531.25 798.8H567.55" stroke="#333333" stroke-width="5.4"/>
<path d="M603.05 788.5V798.4M603.05 820.9V825.8" stroke="#333333" stroke-width="2.7" fill="none"/>
<rect x="584.9" y="798.4" width="36.3" height="22.5" fill="rgba(86,180,233,0.15)" stroke="#333333" stroke-width="2.7" stroke-linejoin="miter"/>
<path d="M584.9 818.8H621.2" stroke="#333333" stroke-width="5.4"/>
<path d="M646.85 724.7V749.4M646.85 813.6V830.6" stroke="#333333" stroke-width="2.7" fill="none"/>
<rect x="628.7" y="749.4" width="36.3" height="64.2" fill="rgba(255,0,0,0.215)" stroke="#333333" stroke-width="2.7" stroke-linejoin="miter"/>
<path d="M628.7 802.6H665" stroke="#333333" stroke-width="5.4"/>
<path d="M700.5 823.7V825.8" stroke="#333333" stroke-width="2.7" fill="none"/>
<rect x="682.35" y="818.4" width="36.3" height="5.3" fill="rgba(86,180,233,0.15)" stroke="#333333" stroke-width="2.7" stroke-linejoin="miter"/>
<path d="M682.35 820.1H718.65" stroke="#333333" stroke-width="5.4"/>
<path d="M744.3 765.2V794.6M744.3 824.1V833.2" stroke="#333333" stroke-width="2.7" fill="none"/>
<rect x="726.15" y="794.6" width="36.3" height="29.5" fill="rgba(255,0,0,0.215)" stroke="#333333" stroke-width="2.7" stroke-linejoin="miter"/>
<path d="M726.15 810.6H762.45" stroke="#333333" stroke-width="5.4"/>
<path d="M797.95 818.8V821.2M797.95 823.1V824.7" stroke="#333333" stroke-width="2.7" fill="none"/>
<rect x="779.8" y="821.2" width="36.3" height="1.9" fill="rgba(86,180,233,0.15)" stroke="#333333" stroke-width="2.7" stroke-linejoin="miter"/>
<path d="M779.8 822.2H816.1" stroke="#333333" stroke-width="5.4"/>
<path d="M841.75 804.7V812.1M841.75 819.5V827.9" stroke="#333333" stroke-width="2.7" fill="none"/>
<rect x="823.6" y="812.1" width="36.3" height="7.4" fill="rgba(255,0,0,0.215)" stroke="#333333" stroke-width="2.7" stroke-linejoin="miter"/>
<path d="M823.6 816.9H859.9" stroke="#333333" stroke-width="5.4"/>
<circle cx="98.6" cy="678.8" r="5.5" fill="#00468B"/>
<circle cx="103.2" cy="789.6" r="5.5" fill="#ED0000"/>
<circle cx="107.8" cy="771.7" r="5.5" fill="#42B540"/>
<circle cx="112.4" cy="832.5" r="5.5" fill="#0099B4"/>
<circle cx="117" cy="701.6" r="5.5" fill="#925E9F"/>
<circle cx="121.6" cy="818" r="5.5" fill="#FDAF91"/>
<circle cx="126.2" cy="824.1" r="5.5" fill="#AD002A"/>
<circle cx="130.8" cy="808.9" r="5.5" fill="#ADB6B6"/>
<circle cx="135.4" cy="775.9" r="5.5" fill="#1B1919"/>
<circle cx="140" cy="611.1" r="5.5" fill="#00468B"/>
<circle cx="144.6" cy="741.2" r="5.5" fill="#ED0000"/>
<circle cx="149.2" cy="702" r="5.5" fill="#42B540"/>
<circle cx="153.8" cy="860.9" r="5.5" fill="#0099B4"/>
<circle cx="158.4" cy="615.5" r="5.5" fill="#925E9F"/>
<circle cx="163" cy="813.2" r="5.5" fill="#FDAF91"/>
<circle cx="167.6" cy="823.3" r="5.5" fill="#AD002A"/>
<circle cx="172.2" cy="772.7" r="5.5" fill="#ADB6B6"/>
<circle cx="176.8" cy="706.8" r="5.5" fill="#1B1919"/>
<circle cx="196.05" cy="704.3" r="5.5" fill="#00468B"/>
<circle cx="200.65" cy="833.2" r="5.5" fill="#ED0000"/>
<circle cx="205.25" cy="757.8" r="5.5" fill="#42B540"/>
<circle cx="209.85" cy="833.2" r="5.5" fill="#0099B4"/>
<circle cx="214.45" cy="731.1" r="5.5" fill="#925E9F"/>
<circle cx="219.05" cy="823.1" r="5.5" fill="#FDAF91"/>
<circle cx="223.65" cy="827.9" r="5.5" fill="#AD002A"/>
<circle cx="228.25" cy="821.2" r="5.5" fill="#ADB6B6"/>
<circle cx="232.85" cy="756.9" r="5.5" fill="#1B1919"/>
<circle cx="237.45" cy="640.7" r="5.5" fill="#00468B"/>
<circle cx="242.05" cy="870.4" r="5.5" fill="#ED0000"/>
<circle cx="246.65" cy="684.7" r="5.5" fill="#42B540"/>
<circle cx="251.25" cy="863.3" r="5.5" fill="#0099B4"/>
<circle cx="255.85" cy="648.3" r="5.5" fill="#925E9F"/>
<circle cx="260.45" cy="825.4" r="5.5" fill="#FDAF91"/>
<circle cx="265.05" cy="835.7" r="5.5" fill="#AD002A"/>
<circle cx="269.65" cy="812.5" r="5.5" fill="#ADB6B6"/>
<circle cx="274.25" cy="683.3" r="5.5" fill="#1B1919"/>
<circle cx="293.5" cy="670" r="5.5" fill="#00468B"/>
<circle cx="298.1" cy="824.7" r="5.5" fill="#ED0000"/>
<circle cx="302.7" cy="756.3" r="5.5" fill="#42B540"/>
<circle cx="307.3" cy="833.8" r="5.5" fill="#0099B4"/>
<circle cx="311.9" cy="780.9" r="5.5" fill="#925E9F"/>
<circle cx="316.5" cy="838" r="5.5" fill="#FDAF91"/>
<circle cx="321.1" cy="844.7" r="5.5" fill="#AD002A"/>
<circle cx="325.7" cy="846.8" r="5.5" fill="#ADB6B6"/>
<circle cx="330.3" cy="638" r="5.5" fill="#1B1919"/>
<circle cx="334.9" cy="654.2" r="5.5" fill="#00468B"/>
<circle cx="339.5" cy="818" r="5.5" fill="#ED0000"/>
<circle cx="344.1" cy="771" r="5.5" fill="#42B540"/>
<circle cx="348.7" cy="841.2" r="5.5" fill="#0099B4"/>
<circle cx="353.3" cy="960" r="5.5" fill="#925E9F"/>
<circle cx="357.9" cy="864.7" r="5.5" fill="#FDAF91"/>
<circle cx="362.5" cy="879.5" r="5.5" fill="#AD002A"/>
<circle cx="367.1" cy="881" r="5.5" fill="#ADB6B6"/>
<circle cx="371.7" cy="560.5" r="5.5" fill="#1B1919"/>
<circle cx="390.95" cy="724.7" r="5.5" fill="#00468B"/>
<circle cx="395.55" cy="835.3" r="5.5" fill="#ED0000"/>
<circle cx="400.15" cy="752.5" r="5.5" fill="#42B540"/>
<circle cx="404.75" cy="835.7" r="5.5" fill="#0099B4"/>
<circle cx="409.35" cy="715.3" r="5.5" fill="#925E9F"/>
<circle cx="413.95" cy="829.6" r="5.5" fill="#FDAF91"/>
<circle cx="418.55" cy="824.7" r="5.5" fill="#AD002A"/>
<circle cx="423.15" cy="823.1" r="5.5" fill="#ADB6B6"/>
<circle cx="427.75" cy="756.9" r="5.5" fill="#1B1919"/>
<circle cx="432.35" cy="640.5" r="5.5" fill="#00468B"/>
<circle cx="436.95" cy="888.9" r="5.5" fill="#ED0000"/>
<circle cx="441.55" cy="682" r="5.5" fill="#42B540"/>
<circle cx="446.15" cy="877.4" r="5.5" fill="#0099B4"/>
<circle cx="450.75" cy="630" r="5.5" fill="#925E9F"/>
<circle cx="455.35" cy="862.2" r="5.5" fill="#FDAF91"/>
<circle cx="459.95" cy="827.9" r="5.5" fill="#AD002A"/>
<circle cx="464.55" cy="827.3" r="5.5" fill="#ADB6B6"/>
<circle cx="469.15" cy="686.2" r="5.5" fill="#1B1919"/>
<circle cx="488.4" cy="801.2" r="5.5" fill="#00468B"/>
<circle cx="493" cy="815.9" r="5.5" fill="#ED0000"/>
<circle cx="497.6" cy="809.4" r="5.5" fill="#42B540"/>
<circle cx="502.2" cy="827.3" r="5.5" fill="#0099B4"/>
<circle cx="506.8" cy="800.1" r="5.5" fill="#925E9F"/>
<circle cx="511.4" cy="820.9" r="5.5" fill="#FDAF91"/>
<circle cx="516" cy="824.7" r="5.5" fill="#AD002A"/>
<circle cx="520.6" cy="822" r="5.5" fill="#ADB6B6"/>
<circle cx="525.2" cy="812.1" r="5.5" fill="#1B1919"/>
<circle cx="529.8" cy="739.1" r="5.5" fill="#00468B"/>
<circle cx="534.4" cy="798.8" r="5.5" fill="#ED0000"/>
<circle cx="539" cy="765.4" r="5.5" fill="#42B540"/>
<circle cx="543.6" cy="839.5" r="5.5" fill="#0099B4"/>
<circle cx="548.2" cy="735.3" r="5.5" fill="#925E9F"/>
<circle cx="552.8" cy="814.6" r="5.5" fill="#FDAF91"/>
<circle cx="557.4" cy="826.4" r="5.5" fill="#AD002A"/>
<circle cx="562" cy="816.9" r="5.5" fill="#ADB6B6"/>
<circle cx="566.6" cy="775.3" r="5.5" fill="#1B1919"/>
<circle cx="585.85" cy="795.3" r="5.5" fill="#00468B"/>
<circle cx="590.45" cy="817.8" r="5.5" fill="#ED0000"/>
<circle cx="595.05" cy="788.5" r="5.5" fill="#42B540"/>
<circle cx="599.65" cy="825.8" r="5.5" fill="#0099B4"/>
<circle cx="604.25" cy="818.8" r="5.5" fill="#925E9F"/>
<circle cx="608.85" cy="820.9" r="5.5" fill="#FDAF91"/>
<circle cx="613.45" cy="824.7" r="5.5" fill="#AD002A"/>
<circle cx="618.05" cy="820.5" r="5.5" fill="#ADB6B6"/>
<circle cx="622.65" cy="798.4" r="5.5" fill="#1B1919"/>
<circle cx="627.25" cy="749.4" r="5.5" fill="#00468B"/>
<circle cx="631.85" cy="802.6" r="5.5" fill="#ED0000"/>
<circle cx="636.45" cy="724.7" r="5.5" fill="#42B540"/>
<circle cx="641.05" cy="830.6" r="5.5" fill="#0099B4"/>
<circle cx="645.65" cy="794.8" r="5.5" fill="#925E9F"/>
<circle cx="650.25" cy="813.6" r="5.5" fill="#FDAF91"/>
<circle cx="654.85" cy="824.7" r="5.5" fill="#AD002A"/>
<circle cx="659.45" cy="812.1" r="5.5" fill="#ADB6B6"/>
<circle cx="664.05" cy="741.2" r="5.5" fill="#1B1919"/>
<circle cx="683.3" cy="810.4" r="5.5" fill="#00468B"/>
<circle cx="687.9" cy="820.1" r="5.5" fill="#ED0000"/>
<circle cx="692.5" cy="818.4" r="5.5" fill="#42B540"/>
<circle cx="697.1" cy="825.8" r="5.5" fill="#0099B4"/>
<circle cx="701.7" cy="804.1" r="5.5" fill="#925E9F"/>
<circle cx="706.3" cy="822.6" r="5.5" fill="#FDAF91"/>
<circle cx="710.9" cy="825.2" r="5.5" fill="#AD002A"/>
<circle cx="715.5" cy="823.7" r="5.5" fill="#ADB6B6"/>
<circle cx="720.1" cy="819.9" r="5.5" fill="#1B1919"/>
<circle cx="724.7" cy="765.2" r="5.5" fill="#00468B"/>
<circle cx="729.3" cy="810.6" r="5.5" fill="#ED0000"/>
<circle cx="733.9" cy="794.6" r="5.5" fill="#42B540"/>
<circle cx="738.5" cy="833.2" r="5.5" fill="#0099B4"/>
<circle cx="743.1" cy="748.9" r="5.5" fill="#925E9F"/>
<circle cx="747.7" cy="819.9" r="5.5" fill="#FDAF91"/>
<circle cx="752.3" cy="828.5" r="5.5" fill="#AD002A"/>
<circle cx="756.9" cy="824.1" r="5.5" fill="#ADB6B6"/>
<circle cx="761.5" cy="804.3" r="5.5" fill="#1B1919"/>
<circle cx="780.75" cy="821.2" r="5.5" fill="#00468B"/>
<circle cx="785.35" cy="818.8" r="5.5" fill="#ED0000"/>
<circle cx="789.95" cy="820.5" r="5.5" fill="#42B540"/>
<circle cx="794.55" cy="824.7" r="5.5" fill="#0099B4"/>
<circle cx="799.15" cy="823.1" r="5.5" fill="#925E9F"/>
<circle cx="803.75" cy="822.2" r="5.5" fill="#FDAF91"/>
<circle cx="808.35" cy="824.3" r="5.5" fill="#AD002A"/>
<circle cx="812.95" cy="823.1" r="5.5" fill="#ADB6B6"/>
<circle cx="817.55" cy="822" r="5.5" fill="#1B1919"/>
<circle cx="822.15" cy="812.7" r="5.5" fill="#00468B"/>
<circle cx="826.75" cy="804.7" r="5.5" fill="#ED0000"/>
<circle cx="831.35" cy="810" r="5.5" fill="#42B540"/>
<circle cx="835.95" cy="827.9" r="5.5" fill="#0099B4"/>
<circle cx="840.55" cy="817.4" r="5.5" fill="#925E9F"/>
<circle cx="845.15" cy="816.9" r="5.5" fill="#FDAF91"/>
<circle cx="849.75" cy="825.4" r="5.5" fill="#AD002A"/>
<circle cx="854.35" cy="819.5" r="5.5" fill="#ADB6B6"/>
<circle cx="858.95" cy="812.1" r="5.5" fill="#1B1919"/>
<rect x="79.8" y="541.5" width="797.8" height="438.6" fill="none" stroke="#B3B3B3" stroke-width="1.6"/>
<path d="M73 568.5H79.8M73 602H79.8M73 646.2H79.8M73 679.5H79.8M73 823.7H79.8M73 968H79.8" stroke="#B3B3B3" stroke-width="1.3" fill="none"/>
<text x="67.6" y="576.4" font-size="20.6" fill="#4D4D4D" text-anchor="end">100</text>
<text x="67.6" y="609.9" font-size="20.6" fill="#4D4D4D" text-anchor="end">50</text>
<text x="67.6" y="654.1" font-size="20.6" fill="#4D4D4D" text-anchor="end">20</text>
<text x="67.6" y="687.4" font-size="20.6" fill="#4D4D4D" text-anchor="end">10</text>
<text x="67.6" y="831.6" font-size="20.6" fill="#4D4D4D" text-anchor="end">0</text>
<text x="67.6" y="976.1" font-size="20.6" fill="#4D4D4D" text-anchor="end">-10</text>
<path d="M137.7 980.1V986.9M235.15 980.1V986.9M332.6 980.1V986.9M430.05 980.1V986.9M527.5 980.1V986.9M624.95 980.1V986.9M722.4 980.1V986.9M819.85 980.1V986.9" stroke="#B3B3B3" stroke-width="1.3" fill="none"/>
<text transform="translate(154.4 1001.1) rotate(-65)" font-size="23.1" fill="#4D4D4D" text-anchor="end">Canada</text>
<text transform="translate(251.85 1001.1) rotate(-65)" font-size="23.1" fill="#4D4D4D" text-anchor="end">Mexico</text>
<text transform="translate(349.3 1001.1) rotate(-65)" font-size="23.1" fill="#4D4D4D" text-anchor="end">US</text>
<text transform="translate(446.75 1001.1) rotate(-65)" font-size="23.1" fill="#4D4D4D" text-anchor="end">Oceania</text>
<text transform="translate(544.2 1001.1) rotate(-65)" font-size="23.1" fill="#4D4D4D" text-anchor="end">LatinAmer</text>
<text transform="translate(641.65 1001.1) rotate(-65)" font-size="23.1" fill="#4D4D4D" text-anchor="end">WestEurope</text>
<text transform="translate(739.1 1001.1) rotate(-65)" font-size="23.1" fill="#4D4D4D" text-anchor="end">EastAsia</text>
<text transform="translate(836.55 1001.1) rotate(-65)" font-size="23.1" fill="#4D4D4D" text-anchor="end">RestofWorld</text>
</g>
<g transform="translate(0 -0.1)">
<rect x="943.3" y="496.3" width="799.5" height="45.2" fill="#E5E5E5"/>
<text x="1343.05" y="527.7" font-size="20.6" fill="#000" text-anchor="middle">Sectoral Investment (%)</text>
<rect x="943.8" y="541.5" width="798.5" height="438.6" fill="#fff"/>
<path d="M943.8 567.5H1742.3M943.8 602.8H1742.3M943.8 684.1H1742.3M943.8 815.3H1742.3M943.8 896.5H1742.3M943.8 931.3H1742.3M943.8 966.1H1742.3" stroke="#E3E3E3" stroke-width="0.8" fill="none"/>
<path d="M943.8 547.9H1742.3M943.8 587.5H1742.3M943.8 618.2H1742.3M943.8 749.6H1742.3M943.8 881H1742.3M943.8 911.3H1742.3M943.8 951.4H1742.3M1002.1 541.5V980.1M1099.55 541.5V980.1M1197 541.5V980.1M1294.45 541.5V980.1M1391.9 541.5V980.1M1489.35 541.5V980.1M1586.8 541.5V980.1M1684.25 541.5V980.1" stroke="#DEDEDE" stroke-width="1.3" fill="none"/>
<path d="M980.2 744.7V745.2" stroke="#333333" stroke-width="2.7" fill="none"/>
<rect x="962.05" y="745.2" width="36.3" height="1" fill="rgba(86,180,233,0.15)" stroke="#333333" stroke-width="2.7" stroke-linejoin="miter"/>
<path d="M962.05 745.4H998.35" stroke="#333333" stroke-width="5.4"/>
<path d="M1024 725.8V729.4M1024 733.2V733.6" stroke="#333333" stroke-width="2.7" fill="none"/>
<rect x="1005.85" y="729.4" width="36.3" height="3.8" fill="rgba(255,0,0,0.215)" stroke="#333333" stroke-width="2.7" stroke-linejoin="miter"/>
<path d="M1005.85 731.1H1042.15" stroke="#333333" stroke-width="5.4"/>
<path d="M1077.65 634.6V668.3M1077.65 748.3V751.1" stroke="#333333" stroke-width="2.7" fill="none"/>
<rect x="1059.5" y="668.3" width="36.3" height="80" fill="rgba(86,180,233,0.15)" stroke="#333333" stroke-width="2.7" stroke-linejoin="miter"/>
<path d="M1059.5 745.8H1095.8" stroke="#333333" stroke-width="5.4"/>
<path d="M1121.45 560.5V596.7M1121.45 749.6V758" stroke="#333333" stroke-width="2.7" fill="none"/>
<rect x="1103.3" y="596.7" width="36.3" height="152.9" fill="rgba(255,0,0,0.215)" stroke="#333333" stroke-width="2.7" stroke-linejoin="miter"/>
<path d="M1103.3 740.5H1139.6" stroke="#333333" stroke-width="5.4"/>
<path d="M1175.1 753.9V758.2" stroke="#333333" stroke-width="2.7" fill="none"/>
<rect x="1156.95" y="758.2" width="36.3" height="10.1" fill="rgba(86,180,233,0.15)" stroke="#333333" stroke-width="2.7" stroke-linejoin="miter"/>
<path d="M1156.95 759.6H1193.25" stroke="#333333" stroke-width="5.4"/>
<path d="M1218.9 759.6V778.8" stroke="#333333" stroke-width="2.7" fill="none"/>
<rect x="1200.75" y="778.8" width="36.3" height="26.1" fill="rgba(255,0,0,0.215)" stroke="#333333" stroke-width="2.7" stroke-linejoin="miter"/>
<path d="M1200.75 786.6H1237.05" stroke="#333333" stroke-width="5.4"/>
<path d="M1272.55 744.7V745.8M1272.55 746.8V747.5" stroke="#333333" stroke-width="2.7" fill="none"/>
<rect x="1254.4" y="745.8" width="36.3" height="1" fill="rgba(86,180,233,0.15)" stroke="#333333" stroke-width="2.7" stroke-linejoin="miter"/>
<path d="M1254.4 746.8H1290.7" stroke="#333333" stroke-width="5.4"/>
<path d="M1316.35 727.5V733.2M1316.35 739.5V740.5" stroke="#333333" stroke-width="2.7" fill="none"/>
<rect x="1298.2" y="733.2" width="36.3" height="6.3" fill="rgba(255,0,0,0.215)" stroke="#333333" stroke-width="2.7" stroke-linejoin="miter"/>
<path d="M1298.2 735.7H1334.5" stroke="#333333" stroke-width="5.4"/>
<rect x="1351.85" y="747.3" width="36.3" height="0.2" fill="rgba(86,180,233,0.15)" stroke="#333333" stroke-width="2.7" stroke-linejoin="miter"/>
<path d="M1351.85 747.5H1388.15" stroke="#333333" stroke-width="5.4"/>
<path d="M1413.8 740.1V740.5" stroke="#333333" stroke-width="2.7" fill="none"/>
<rect x="1395.65" y="739.5" width="36.3" height="0.6" fill="rgba(255,0,0,0.215)" stroke="#333333" stroke-width="2.7" stroke-linejoin="miter"/>
<path d="M1395.65 740.1H1431.95" stroke="#333333" stroke-width="5.4"/>
<path d="M1467.45 746.8V747.3M1467.45 747.9V748.5" stroke="#333333" stroke-width="2.7" fill="none"/>
<rect x="1449.3" y="747.3" width="36.3" height="0.6" fill="rgba(86,180,233,0.15)" stroke="#333333" stroke-width="2.7" stroke-linejoin="miter"/>
<path d="M1449.3 747.9H1485.6" stroke="#333333" stroke-width="5.4"/>
<path d="M1511.25 736.9V740.9M1511.25 743.7V744.7" stroke="#333333" stroke-width="2.7" fill="none"/>
<rect x="1493.1" y="740.9" width="36.3" height="2.8" fill="rgba(255,0,0,0.215)" stroke="#333333" stroke-width="2.7" stroke-linejoin="miter"/>
<path d="M1493.1 742.2H1529.4" stroke="#333333" stroke-width="5.4"/>
<rect x="1546.75" y="747.3" width="36.3" height="2.1" fill="rgba(86,180,233,0.15)" stroke="#333333" stroke-width="2.7" stroke-linejoin="miter"/>
<path d="M1546.75 747.9H1583.05" stroke="#333333" stroke-width="5.4"/>
<path d="M1608.7 747.9V748.9" stroke="#333333" stroke-width="2.7" fill="none"/>
<rect x="1590.55" y="740.5" width="36.3" height="7.4" fill="rgba(255,0,0,0.215)" stroke="#333333" stroke-width="2.7" stroke-linejoin="miter"/>
<path d="M1590.55 743.1H1626.85" stroke="#333333" stroke-width="5.4"/>
<path d="M1662.35 748.5V748.9" stroke="#333333" stroke-width="2.7" fill="none"/>
<rect x="1644.2" y="747.9" width="36.3" height="0.6" fill="rgba(86,180,233,0.15)" stroke="#333333" stroke-width="2.7" stroke-linejoin="miter"/>
<path d="M1644.2 747.9H1680.5" stroke="#333333" stroke-width="5.4"/>
<path d="M1706.15 744.7V745.4" stroke="#333333" stroke-width="2.7" fill="none"/>
<rect x="1688" y="742.6" width="36.3" height="2.1" fill="rgba(255,0,0,0.215)" stroke="#333333" stroke-width="2.7" stroke-linejoin="miter"/>
<path d="M1688 743.7H1724.3" stroke="#333333" stroke-width="5.4"/>
<circle cx="963" cy="744.7" r="5.5" fill="#00468B"/>
<circle cx="967.6" cy="744.7" r="5.5" fill="#ED0000"/>
<circle cx="972.2" cy="745.4" r="5.5" fill="#42B540"/>
<circle cx="976.8" cy="751.1" r="5.5" fill="#0099B4"/>
<circle cx="981.4" cy="745.2" r="5.5" fill="#925E9F"/>
<circle cx="986" cy="745.4" r="5.5" fill="#FDAF91"/>
<circle cx="990.6" cy="746.2" r="5.5" fill="#AD002A"/>
<circle cx="995.2" cy="745.8" r="5.5" fill="#ADB6B6"/>
<circle cx="999.8" cy="746.2" r="5.5" fill="#1B1919"/>
<circle cx="1004.4" cy="725.8" r="5.5" fill="#00468B"/>
<circle cx="1009" cy="729.4" r="5.5" fill="#ED0000"/>
<circle cx="1013.6" cy="730.6" r="5.5" fill="#42B540"/>
<circle cx="1018.2" cy="759.3" r="5.5" fill="#0099B4"/>
<circle cx="1022.8" cy="728.5" r="5.5" fill="#925E9F"/>
<circle cx="1027.4" cy="731.1" r="5.5" fill="#FDAF91"/>
<circle cx="1032" cy="733.6" r="5.5" fill="#AD002A"/>
<circle cx="1036.6" cy="733.2" r="5.5" fill="#ADB6B6"/>
<circle cx="1041.2" cy="733.2" r="5.5" fill="#1B1919"/>
<circle cx="1060.45" cy="634.6" r="5.5" fill="#00468B"/>
<circle cx="1065.05" cy="750" r="5.5" fill="#ED0000"/>
<circle cx="1069.65" cy="668.3" r="5.5" fill="#42B540"/>
<circle cx="1074.25" cy="751.1" r="5.5" fill="#0099B4"/>
<circle cx="1078.85" cy="662.6" r="5.5" fill="#925E9F"/>
<circle cx="1083.45" cy="745.8" r="5.5" fill="#FDAF91"/>
<circle cx="1088.05" cy="748.3" r="5.5" fill="#AD002A"/>
<circle cx="1092.65" cy="738.4" r="5.5" fill="#ADB6B6"/>
<circle cx="1097.25" cy="748.3" r="5.5" fill="#1B1919"/>
<circle cx="1101.85" cy="560.5" r="5.5" fill="#00468B"/>
<circle cx="1106.45" cy="753.6" r="5.5" fill="#ED0000"/>
<circle cx="1111.05" cy="596.7" r="5.5" fill="#42B540"/>
<circle cx="1115.65" cy="758" r="5.5" fill="#0099B4"/>
<circle cx="1120.25" cy="592.5" r="5.5" fill="#925E9F"/>
<circle cx="1124.85" cy="749.6" r="5.5" fill="#FDAF91"/>
<circle cx="1129.45" cy="740.5" r="5.5" fill="#AD002A"/>
<circle cx="1134.05" cy="714.2" r="5.5" fill="#ADB6B6"/>
<circle cx="1138.65" cy="740.5" r="5.5" fill="#1B1919"/>
<circle cx="1157.9" cy="763" r="5.5" fill="#00468B"/>
<circle cx="1162.5" cy="759.2" r="5.5" fill="#ED0000"/>
<circle cx="1167.1" cy="911.4" r="5.5" fill="#42B540"/>
<circle cx="1171.7" cy="753.9" r="5.5" fill="#0099B4"/>
<circle cx="1176.3" cy="897.1" r="5.5" fill="#925E9F"/>
<circle cx="1180.9" cy="758.2" r="5.5" fill="#FDAF91"/>
<circle cx="1185.5" cy="757.1" r="5.5" fill="#AD002A"/>
<circle cx="1190.1" cy="768.3" r="5.5" fill="#ADB6B6"/>
<circle cx="1194.7" cy="759.6" r="5.5" fill="#1B1919"/>
<circle cx="1199.3" cy="786.6" r="5.5" fill="#00468B"/>
<circle cx="1203.9" cy="780.3" r="5.5" fill="#ED0000"/>
<circle cx="1208.5" cy="960.3" r="5.5" fill="#42B540"/>
<circle cx="1213.1" cy="759.6" r="5.5" fill="#0099B4"/>
<circle cx="1217.7" cy="949.3" r="5.5" fill="#925E9F"/>
<circle cx="1222.3" cy="778.8" r="5.5" fill="#FDAF91"/>
<circle cx="1226.9" cy="776.1" r="5.5" fill="#AD002A"/>
<circle cx="1231.5" cy="804.9" r="5.5" fill="#ADB6B6"/>
<circle cx="1236.1" cy="791.2" r="5.5" fill="#1B1919"/>
<circle cx="1255.35" cy="745.8" r="5.5" fill="#00468B"/>
<circle cx="1259.95" cy="746.8" r="5.5" fill="#ED0000"/>
<circle cx="1264.55" cy="735.3" r="5.5" fill="#42B540"/>
<circle cx="1269.15" cy="755.4" r="5.5" fill="#0099B4"/>
<circle cx="1273.75" cy="744.7" r="5.5" fill="#925E9F"/>
<circle cx="1278.35" cy="746.8" r="5.5" fill="#FDAF91"/>
<circle cx="1282.95" cy="746.8" r="5.5" fill="#AD002A"/>
<circle cx="1287.55" cy="747.5" r="5.5" fill="#ADB6B6"/>
<circle cx="1292.15" cy="746.2" r="5.5" fill="#1B1919"/>
<circle cx="1296.75" cy="733.2" r="5.5" fill="#00468B"/>
<circle cx="1301.35" cy="736.3" r="5.5" fill="#ED0000"/>
<circle cx="1305.95" cy="694.2" r="5.5" fill="#42B540"/>
<circle cx="1310.55" cy="780.9" r="5.5" fill="#0099B4"/>
<circle cx="1315.15" cy="727.5" r="5.5" fill="#925E9F"/>
<circle cx="1319.75" cy="739.5" r="5.5" fill="#FDAF91"/>
<circle cx="1324.35" cy="735.3" r="5.5" fill="#AD002A"/>
<circle cx="1328.95" cy="740.5" r="5.5" fill="#ADB6B6"/>
<circle cx="1333.55" cy="735.7" r="5.5" fill="#1B1919"/>
<circle cx="1352.8" cy="746.4" r="5.5" fill="#00468B"/>
<circle cx="1357.4" cy="746.8" r="5.5" fill="#ED0000"/>
<circle cx="1362" cy="747.3" r="5.5" fill="#42B540"/>
<circle cx="1366.6" cy="750" r="5.5" fill="#0099B4"/>
<circle cx="1371.2" cy="747.5" r="5.5" fill="#925E9F"/>
<circle cx="1375.8" cy="747.5" r="5.5" fill="#FDAF91"/>
<circle cx="1380.4" cy="747.5" r="5.5" fill="#AD002A"/>
<circle cx="1385" cy="747.5" r="5.5" fill="#ADB6B6"/>
<circle cx="1389.6" cy="747.5" r="5.5" fill="#1B1919"/>
<circle cx="1394.2" cy="734.8" r="5.5" fill="#00468B"/>
<circle cx="1398.8" cy="738.4" r="5.5" fill="#ED0000"/>
<circle cx="1403.4" cy="739.5" r="5.5" fill="#42B540"/>
<circle cx="1408" cy="750.4" r="5.5" fill="#0099B4"/>
<circle cx="1412.6" cy="739.5" r="5.5" fill="#925E9F"/>
<circle cx="1417.2" cy="740.1" r="5.5" fill="#FDAF91"/>
<circle cx="1421.8" cy="740.5" r="5.5" fill="#AD002A"/>
<circle cx="1426.4" cy="740.1" r="5.5" fill="#ADB6B6"/>
<circle cx="1431" cy="740.1" r="5.5" fill="#1B1919"/>
<circle cx="1450.25" cy="746.8" r="5.5" fill="#00468B"/>
<circle cx="1454.85" cy="747.3" r="5.5" fill="#ED0000"/>
<circle cx="1459.45" cy="747.9" r="5.5" fill="#42B540"/>
<circle cx="1464.05" cy="748.5" r="5.5" fill="#0099B4"/>
<circle cx="1468.65" cy="743.7" r="5.5" fill="#925E9F"/>
<circle cx="1473.25" cy="747.9" r="5.5" fill="#FDAF91"/>
<circle cx="1477.85" cy="747.9" r="5.5" fill="#AD002A"/>
<circle cx="1482.45" cy="747.5" r="5.5" fill="#ADB6B6"/>
<circle cx="1487.05" cy="747.9" r="5.5" fill="#1B1919"/>
<circle cx="1491.65" cy="736.9" r="5.5" fill="#00468B"/>
<circle cx="1496.25" cy="740.9" r="5.5" fill="#ED0000"/>
<circle cx="1500.85" cy="742.2" r="5.5" fill="#42B540"/>
<circle cx="1505.45" cy="744.7" r="5.5" fill="#0099B4"/>
<circle cx="1510.05" cy="724.9" r="5.5" fill="#925E9F"/>
<circle cx="1514.65" cy="742.6" r="5.5" fill="#FDAF91"/>
<circle cx="1519.25" cy="743.7" r="5.5" fill="#AD002A"/>
<circle cx="1523.85" cy="740.9" r="5.5" fill="#ADB6B6"/>
<circle cx="1528.45" cy="743.7" r="5.5" fill="#1B1919"/>
<circle cx="1547.7" cy="747.9" r="5.5" fill="#00468B"/>
<circle cx="1552.3" cy="747.3" r="5.5" fill="#ED0000"/>
<circle cx="1556.9" cy="733.8" r="5.5" fill="#42B540"/>
<circle cx="1561.5" cy="749.4" r="5.5" fill="#0099B4"/>
<circle cx="1566.1" cy="689.6" r="5.5" fill="#925E9F"/>
<circle cx="1570.7" cy="748.5" r="5.5" fill="#FDAF91"/>
<circle cx="1575.3" cy="749.4" r="5.5" fill="#AD002A"/>
<circle cx="1579.9" cy="747.9" r="5.5" fill="#ADB6B6"/>
<circle cx="1584.5" cy="749.4" r="5.5" fill="#1B1919"/>
<circle cx="1589.1" cy="740.5" r="5.5" fill="#00468B"/>
<circle cx="1593.7" cy="742.6" r="5.5" fill="#ED0000"/>
<circle cx="1598.3" cy="688.5" r="5.5" fill="#42B540"/>
<circle cx="1602.9" cy="748.9" r="5.5" fill="#0099B4"/>
<circle cx="1607.5" cy="618.4" r="5.5" fill="#925E9F"/>
<circle cx="1612.1" cy="747.5" r="5.5" fill="#FDAF91"/>
<circle cx="1616.7" cy="748.5" r="5.5" fill="#AD002A"/>
<circle cx="1621.3" cy="743.1" r="5.5" fill="#ADB6B6"/>
<circle cx="1625.9" cy="747.9" r="5.5" fill="#1B1919"/>
<circle cx="1645.15" cy="747.9" r="5.5" fill="#00468B"/>
<circle cx="1649.75" cy="747.9" r="5.5" fill="#ED0000"/>
<circle cx="1654.35" cy="746.8" r="5.5" fill="#42B540"/>
<circle cx="1658.95" cy="748.9" r="5.5" fill="#0099B4"/>
<circle cx="1663.55" cy="743.3" r="5.5" fill="#925E9F"/>
<circle cx="1668.15" cy="748.5" r="5.5" fill="#FDAF91"/>
<circle cx="1672.75" cy="748.5" r="5.5" fill="#AD002A"/>
<circle cx="1677.35" cy="747.9" r="5.5" fill="#ADB6B6"/>
<circle cx="1681.95" cy="748.5" r="5.5" fill="#1B1919"/>
<circle cx="1686.55" cy="742.6" r="5.5" fill="#00468B"/>
<circle cx="1691.15" cy="743.7" r="5.5" fill="#ED0000"/>
<circle cx="1695.75" cy="736.9" r="5.5" fill="#42B540"/>
<circle cx="1700.35" cy="745.4" r="5.5" fill="#0099B4"/>
<circle cx="1704.95" cy="722.2" r="5.5" fill="#925E9F"/>
<circle cx="1709.55" cy="743.7" r="5.5" fill="#FDAF91"/>
<circle cx="1714.15" cy="744.7" r="5.5" fill="#AD002A"/>
<circle cx="1718.75" cy="743.3" r="5.5" fill="#ADB6B6"/>
<circle cx="1723.35" cy="744.7" r="5.5" fill="#1B1919"/>
<rect x="943.8" y="541.5" width="798.5" height="438.6" fill="none" stroke="#B3B3B3" stroke-width="1.6"/>
<path d="M937 547.9H943.8M937 587.5H943.8M937 618.2H943.8M937 749.6H943.8M937 881H943.8M937 911.3H943.8M937 951.4H943.8" stroke="#B3B3B3" stroke-width="1.3" fill="none"/>
<text x="931.6" y="555.8" font-size="20.6" fill="#4D4D4D" text-anchor="end">50</text>
<text x="931.6" y="595.4" font-size="20.6" fill="#4D4D4D" text-anchor="end">20</text>
<text x="931.6" y="626.1" font-size="20.6" fill="#4D4D4D" text-anchor="end">10</text>
<text x="931.6" y="757.5" font-size="20.6" fill="#4D4D4D" text-anchor="end">0</text>
<text x="931.6" y="888.9" font-size="20.6" fill="#4D4D4D" text-anchor="end">-10</text>
<text x="931.6" y="919.2" font-size="20.6" fill="#4D4D4D" text-anchor="end">-20</text>
<text x="931.6" y="959.3" font-size="20.6" fill="#4D4D4D" text-anchor="end">-50</text>
<path d="M1002.1 980.1V986.9M1099.55 980.1V986.9M1197 980.1V986.9M1294.45 980.1V986.9M1391.9 980.1V986.9M1489.35 980.1V986.9M1586.8 980.1V986.9M1684.25 980.1V986.9" stroke="#B3B3B3" stroke-width="1.3" fill="none"/>
<text transform="translate(1018.8 1001.1) rotate(-65)" font-size="23.1" fill="#4D4D4D" text-anchor="end">Canada</text>
<text transform="translate(1116.25 1001.1) rotate(-65)" font-size="23.1" fill="#4D4D4D" text-anchor="end">Mexico</text>
<text transform="translate(1213.7 1001.1) rotate(-65)" font-size="23.1" fill="#4D4D4D" text-anchor="end">US</text>
<text transform="translate(1311.15 1001.1) rotate(-65)" font-size="23.1" fill="#4D4D4D" text-anchor="end">Oceania</text>
<text transform="translate(1408.6 1001.1) rotate(-65)" font-size="23.1" fill="#4D4D4D" text-anchor="end">LatinAmer</text>
<text transform="translate(1506.05 1001.1) rotate(-65)" font-size="23.1" fill="#4D4D4D" text-anchor="end">WestEurope</text>
<text transform="translate(1603.5 1001.1) rotate(-65)" font-size="23.1" fill="#4D4D4D" text-anchor="end">EastAsia</text>
<text transform="translate(1700.95 1001.1) rotate(-65)" font-size="23.1" fill="#4D4D4D" text-anchor="end">RestofWorld</text>
</g>
<text transform="translate(19.3 512.7) rotate(-90)" font-size="25.6" fill="#000" text-anchor="middle">Sectoral impact (%)</text>
<text x="1781.3" y="247" font-size="25.8" fill="#000">Sector</text>
<circle cx="1801" cy="284.1" r="5.8" fill="#00468B"/>
<text x="1834.0" y="292.4" font-size="20.6" fill="#000">Cattle</text>
<circle cx="1801" cy="324.55" r="5.8" fill="#ED0000"/>
<text x="1834.0" y="332.85" font-size="20.6" fill="#000">Crops</text>
<circle cx="1801" cy="365" r="5.8" fill="#42B540"/>
<text x="1834.0" y="373.3" font-size="20.6" fill="#000">Dairy Products</text>
<circle cx="1801" cy="405.45" r="5.8" fill="#0099B4"/>
<text x="1834.0" y="413.75" font-size="20.6" fill="#000">Manufacturing</text>
<circle cx="1801" cy="445.9" r="5.8" fill="#925E9F"/>
<text x="1834.0" y="454.2" font-size="20.6" fill="#000">Meats</text>
<circle cx="1801" cy="486.35" r="5.8" fill="#FDAF91"/>
<text x="1834.0" y="494.65" font-size="20.6" fill="#000">Other Meat</text>
<circle cx="1801" cy="526.8" r="5.8" fill="#AD002A"/>
<text x="1834.0" y="535.1" font-size="20.6" fill="#000">Other Sectors</text>
<circle cx="1801" cy="567.25" r="5.8" fill="#ADB6B6"/>
<text x="1834.0" y="575.55" font-size="20.6" fill="#000">Processed Food</text>
<circle cx="1801" cy="607.7" r="5.8" fill="#1B1919"/>
<text x="1834.0" y="616" font-size="20.6" fill="#000">Raw Milk</text>
<text x="1781.3" y="703.8" font-size="25.8" fill="#000">Scenario</text>
<path d="M1801 724.9V730.9M1801 751.8V757.8" stroke="#333333" stroke-width="2.4"/>
<rect x="1785.6" y="730.9" width="30.8" height="20.9" fill="rgba(86,180,233,0.15)" stroke="#333333" stroke-width="2.4"/>
<path d="M1785.6 741.1H1816.4" stroke="#333333" stroke-width="2.4"/>
<circle cx="1801" cy="741.1" r="5.8" fill="#000"/>
<text x="1834.0" y="749.4" font-size="20.6" fill="#000">Scenario 2</text>
<path d="M1801 765.35V771.35M1801 792.25V798.25" stroke="#333333" stroke-width="2.4"/>
<rect x="1785.6" y="771.35" width="30.8" height="20.9" fill="rgba(255,0,0,0.215)" stroke="#333333" stroke-width="2.4"/>
<path d="M1785.6 781.55H1816.4" stroke="#333333" stroke-width="2.4"/>
<circle cx="1801" cy="781.55" r="5.8" fill="#000"/>
<text x="1834.0" y="789.85" font-size="20.6" fill="#000">Scenario 3</text>
</svg>
</body></html>
